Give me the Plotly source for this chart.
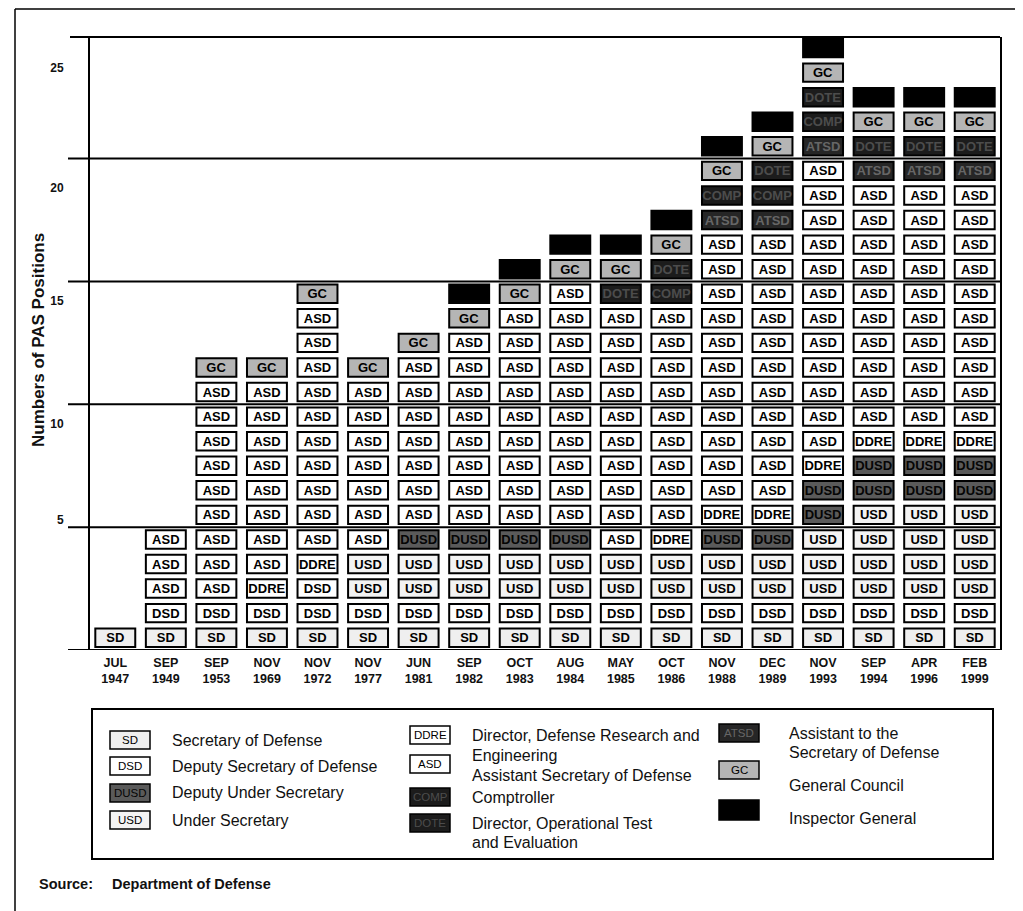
import plotly.graph_objects as go

# ---------------- data ----------------
months = ["JUL", "SEP", "SEP", "NOV", "NOV", "NOV", "JUN", "SEP", "OCT",
          "AUG", "MAY", "OCT", "NOV", "DEC", "NOV", "SEP", "APR", "FEB"]
years = ["1947", "1949", "1953", "1969", "1972", "1977", "1981", "1982", "1983",
         "1984", "1985", "1986", "1988", "1989", "1993", "1994", "1996", "1999"]

# positions stacked bottom -> top for each date
stacks = [
    "SD",
    "SD DSD ASD ASD ASD",
    "SD DSD ASD ASD ASD ASD ASD ASD ASD ASD ASD GC",
    "SD DSD DDRE ASD ASD ASD ASD ASD ASD ASD ASD GC",
    "SD DSD DSD DDRE ASD ASD ASD ASD ASD ASD ASD ASD ASD ASD GC",
    "SD DSD USD USD ASD ASD ASD ASD ASD ASD ASD GC",
    "SD DSD USD USD DUSD ASD ASD ASD ASD ASD ASD ASD GC",
    "SD DSD USD USD DUSD ASD ASD ASD ASD ASD ASD ASD ASD GC IG",
    "SD DSD USD USD DUSD ASD ASD ASD ASD ASD ASD ASD ASD ASD GC IG",
    "SD DSD USD USD DUSD ASD ASD ASD ASD ASD ASD ASD ASD ASD ASD GC IG",
    "SD DSD USD USD ASD ASD ASD ASD ASD ASD ASD ASD ASD ASD DOTE GC IG",
    "SD DSD USD USD DDRE ASD ASD ASD ASD ASD ASD ASD ASD ASD COMP DOTE GC IG",
    "SD DSD USD USD DUSD DDRE ASD ASD ASD ASD ASD ASD ASD ASD ASD ASD ASD ATSD COMP GC IG",
    "SD DSD USD USD DUSD DDRE ASD ASD ASD ASD ASD ASD ASD ASD ASD ASD ASD ATSD COMP DOTE GC IG",
    "SD DSD USD USD USD DUSD DUSD DDRE ASD ASD ASD ASD ASD ASD ASD ASD ASD ASD ASD ASD ATSD COMP DOTE GC IG",
    "SD DSD USD USD USD USD DUSD DUSD DDRE ASD ASD ASD ASD ASD ASD ASD ASD ASD ASD ATSD DOTE GC IG",
    "SD DSD USD USD USD USD DUSD DUSD DDRE ASD ASD ASD ASD ASD ASD ASD ASD ASD ASD ATSD DOTE GC IG",
    "SD DSD USD USD USD USD DUSD DUSD DDRE ASD ASD ASD ASD ASD ASD ASD ASD ASD ASD ATSD DOTE GC IG",
]

ytick_pos = [5.3, 9.2, 14.2, 18.8, 23.7]
ytick_text = ["5", "10", "15", "20", "25"]
gridlines = [0, 5, 10, 15, 20]

legend_codes = ["SD", "DSD", "DUSD", "USD", "DDRE", "ASD", "COMP", "DOTE", "ATSD", "GC", "IG"]
legend_lines = [
    ["Secretary of Defense"], ["Deputy Secretary of Defense"], ["Deputy Under Secretary"],
    ["Under Secretary"], ["Director, Defense Research and", "Engineering"],
    ["Assistant Secretary of Defense"], ["Comptroller"],
    ["Director, Operational Test", "and Evaluation"],
    ["Assistant to the", "Secretary of Defense"], ["General Council"], ["Inspector General"],
]

# ---------------- styles / layout geometry ----------------
FONT = "Liberation Sans, Arial, sans-serif"
OFF = 8                      # page body margin of the html page
W, H = 1023 - OFF, 911 - OFF
# plot area in page pixels: x 90..1000, y 37..650
ML = 90 - OFF
MT = 37 - OFF
MR = W - (1000 - OFF)
MB = H - (650 - OFF)
PW = W - ML - MR
PH = H - MT - MB
Y_TOP = 24.95


def px(xp):
    """page x pixel -> paper x"""
    return (xp - OFF - ML) / PW


def py(yp):
    """page y pixel -> paper y"""
    return (MT + PH - (yp - OFF)) / PH


styles = {
    "SD":   dict(fill="#efefef", tc="#000", label="SD"),
    "DSD":  dict(fill="#ffffff", tc="#000", label="DSD"),
    "USD":  dict(fill="#f3f3f3", tc="#000", label="USD"),
    "DUSD": dict(fill="#5a5a5a", tc="#050505", label="DUSD"),
    "DDRE": dict(fill="#ffffff", tc="#000", label="DDRE"),
    "ASD":  dict(fill="#ffffff", tc="#000", label="ASD"),
    "COMP": dict(fill="#1c1c1c", tc="#4c4c4c", label="COMP"),
    "DOTE": dict(fill="#1c1c1c", tc="#4c4c4c", label="DOTE"),
    "ATSD": dict(fill="#262626", tc="#666666", label="ATSD"),
    "GC":   dict(fill="#b5b5b5", tc="#000", label="GC"),
    "IG":   dict(fill="#000000", tc="#000", label=""),
}
order = ["SD", "DSD", "USD", "DUSD", "DDRE", "ASD", "COMP", "DOTE", "ATSD", "GC", "IG"]

cats = [f"{m}<br>{y}" for m, y in zip(months, years)]
cell_w = 0.79
cell_h = 0.75
gap = (1 - cell_h) / 2

fig = go.Figure()
for code in order:
    xs, bases = [], []
    for cat, stack in zip(cats, stacks):
        for r, c in enumerate(stack.split()):
            if c == code:
                xs.append(cat)
                bases.append(r + gap)
    if not xs:
        continue
    st = styles[code]
    fig.add_trace(go.Bar(
        x=xs, y=[cell_h] * len(xs), base=bases, width=cell_w,
        marker=dict(color=st["fill"], line=dict(color="black", width=2)),
        text=[st["label"]] * len(xs), textposition="inside",
        insidetextanchor="middle", textangle=0,
        textfont=dict(family=FONT, size=13, color=st["tc"], weight="bold"),
        hoverinfo="skip", showlegend=False,
    ))

shapes = []
for g in gridlines:
    shapes.append(dict(type="line", xref="paper", yref="y", x0=px(68), x1=1,
                       y0=g, y1=g, line=dict(color="black", width=2)))
shapes.append(dict(type="line", xref="paper", yref="paper", x0=px(70), x1=1,
                   y0=1, y1=1, line=dict(color="black", width=2)))
# outer frame
shapes.append(dict(type="line", xref="paper", yref="paper", x0=px(15), x1=px(1023),
                   y0=py(9), y1=py(9), line=dict(color="black", width=1.5)))
shapes.append(dict(type="line", xref="paper", yref="paper", x0=px(15), x1=px(15),
                   y0=py(9), y1=py(911), line=dict(color="black", width=1.5)))
# legend frame
shapes.append(dict(type="rect", xref="paper", yref="paper", x0=px(92), x1=px(993),
                   y0=py(709), y1=py(859), line=dict(color="black", width=2)))

annotations = []
sw_pos = [(130, 740), (130, 766), (130, 793), (130, 820),
          (430, 735), (430, 764), (430, 797), (430, 823),
          (739, 733), (739, 770), (739, 810)]
txt_pos = [(170, 740), (170, 766), (170, 793), (170, 820),
           (470, 735), (470, 775), (470, 798), (470, 823),
           (787, 733), (787, 785), (787, 818)]
for code, (sx, sy), lines, (tx, ty) in zip(legend_codes, sw_pos, legend_lines, txt_pos):
    st = styles[code]
    hh = 10 if code == "IG" else 9
    shapes.append(dict(type="rect", xref="paper", yref="paper",
                       x0=px(sx - 20), x1=px(sx + 20), y0=py(sy - hh), y1=py(sy + hh),
                       fillcolor=st["fill"], line=dict(color="black", width=1.5)))
    if st["label"]:
        annotations.append(dict(xref="paper", yref="paper", x=px(sx), y=py(sy),
                                text=st["label"], showarrow=False, xanchor="center",
                                yanchor="middle",
                                font=dict(family=FONT, size=11.5, color=st["tc"])))
    for i, ln in enumerate(lines):
        annotations.append(dict(xref="paper", yref="paper", x=px(tx), y=py(ty + 20 * i),
                                text=ln, showarrow=False, xanchor="left", yanchor="middle",
                                font=dict(family=FONT, size=16, color="#111")))

annotations.append(dict(xref="paper", yref="paper", x=px(38), y=py(340),
                        text="Numbers of PAS Positions", textangle=-90, showarrow=False,
                        xanchor="center", yanchor="middle",
                        font=dict(family=FONT, size=17, color="#111", weight="bold")))
annotations.append(dict(xref="paper", yref="paper", x=px(37), y=py(884), text="Source:",
                        showarrow=False, xanchor="left", yanchor="middle",
                        font=dict(family=FONT, size=14.5, color="#111", weight="bold")))
annotations.append(dict(xref="paper", yref="paper", x=px(110), y=py(884),
                        text="Department of Defense", showarrow=False, xanchor="left",
                        yanchor="middle",
                        font=dict(family=FONT, size=14.5, color="#111", weight="bold")))

fig.update_layout(
    width=W, height=H,
    margin=dict(l=ML, r=MR, t=MT, b=MB, pad=0),
    paper_bgcolor="white", plot_bgcolor="white",
    barmode="overlay",
    uniformtext=dict(minsize=13, mode="show"),
    showlegend=False,
    shapes=shapes, annotations=annotations,
    xaxis=dict(type="category", categoryorder="array", categoryarray=cats,
               range=[-0.5, len(cats) - 0.5], showgrid=False, zeroline=False,
               showline=False, ticks="", ticklabelstandoff=3,
               tickfont=dict(family=FONT, size=12.5, color="#111", weight="bold")),
    yaxis=dict(range=[0, Y_TOP], tickvals=ytick_pos, ticktext=ytick_text,
               showgrid=False, zeroline=False, showline=True, mirror=True,
               linecolor="black", linewidth=2, ticks="", ticklabelstandoff=22,
               tickfont=dict(family=FONT, size=12, color="#111", weight="bold")),
)

fig.write_html("out.html")
